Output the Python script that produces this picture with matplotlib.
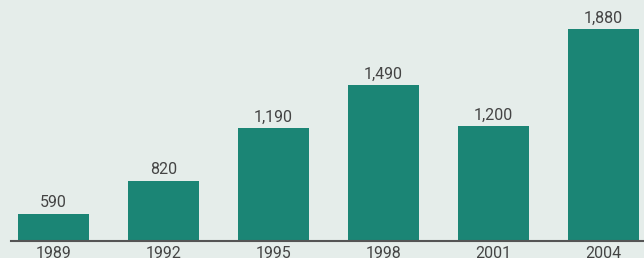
import matplotlib.pyplot as plt

years = ["1989", "1992", "1995", "1998", "2001", "2004"]
values = [590, 820, 1190, 1490, 1200, 1880]

bg = "#e5edea"
bar_color = "#1b8575"
text_color = "#444444"

plt.rcParams["font.family"] = ["Roboto", "DejaVu Sans"]

fig = plt.figure(figsize=(6.44, 2.58), dpi=100, facecolor=bg)
ax = fig.add_axes([11 / 644, 17 / 258, 633 / 644, 241 / 258], facecolor=bg)

x = range(len(years))
bars = ax.bar(x, values, width=0.645, color=bar_color, zorder=2)

# value labels over the bars
for rect, v in zip(bars, values):
    ax.annotate(f"{v:,}", (rect.get_x() + rect.get_width() / 2, rect.get_height()),
                xytext=(0, 2.5), textcoords="offset points",
                ha="center", va="bottom", fontsize=11.5, color=text_color)

ax.set_xlim(-0.386, 5.368)
ax.set_ylim(400, 2083)
ax.set_xticks(list(x))
ax.set_xticklabels(years, fontsize=11.5, color=text_color)
ax.tick_params(axis="x", length=0, pad=3.5)
ax.set_yticks([])

for side in ["top", "right", "left"]:
    ax.spines[side].set_visible(False)
ax.spines["bottom"].set_color("#555555")
ax.spines["bottom"].set_linewidth(1.5)
ax.spines["bottom"].set_zorder(3)

fig.savefig("out.png", dpi=100, facecolor=bg)
